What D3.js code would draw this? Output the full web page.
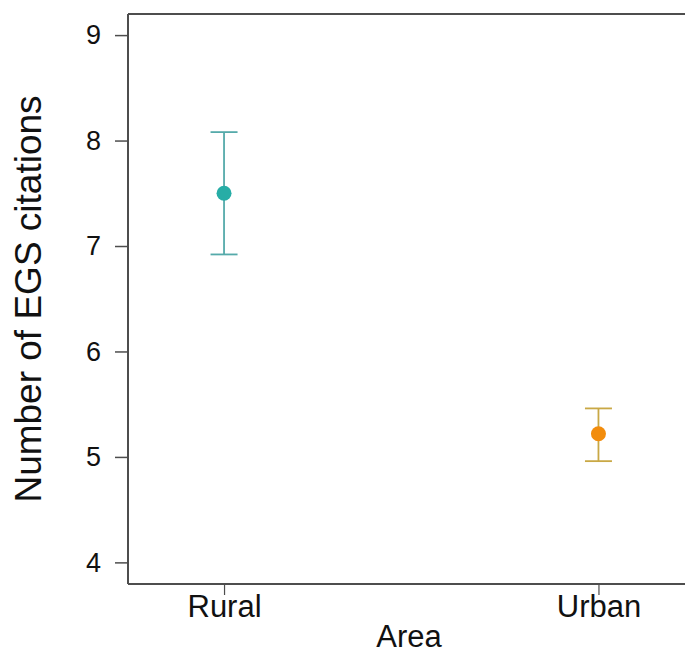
<!DOCTYPE html>
<html><head><meta charset="utf-8">
<script src="https://cdn.jsdelivr.net/npm/d3@7"></script>
<style>
html,body{margin:0;padding:0;background:#fff;}
text{font-family:"Liberation Sans",Arial,sans-serif;fill:#111;}
</style></head>
<body><svg id="chart" width="685" height="653"></svg>
<script>
const categories = ["Rural", "Urban"];
const means = [7.5, 5.22];
const upper = [8.08, 5.46];
const lower = [6.92, 4.96];
const yTicks = [4, 5, 6, 7, 8, 9];
const dotColors = ["#27ada6", "#f28c0c"];
const barColors = ["#55aaaa", "#c9a845"];

(function () {
const svg = d3.select("#chart");
const mLeft = 128, mTop = 14, mBottom = 584, mRight = 694.5;

const y = d3.scaleLinear().domain([3.795, 9.2]).range([mBottom, mTop]);
const x = d3.scalePoint().domain(categories).range([mLeft, mRight]).padding(0.2565);

const axisColor = "#4d4d4d";

// frame top line
svg.append("line").attr("x1", mLeft).attr("x2", 685).attr("y1", mTop).attr("y2", mTop)
  .attr("stroke", axisColor).attr("stroke-width", 2);

// Y axis
const ya = svg.append("g").attr("transform", `translate(${mLeft},0)`)
  .call(d3.axisLeft(y).tickValues(yTicks).tickSize(13).tickPadding(14).tickFormat(d3.format("d")));
ya.select(".domain").attr("stroke", axisColor).attr("stroke-width", 2)
  .attr("d", `M0,${mTop}V${mBottom}`);
ya.selectAll(".tick line").attr("stroke", axisColor).attr("stroke-width", 1.5);
ya.selectAll(".tick text").attr("font-size", 27).attr("fill", "#111")
  .attr("font-family", "Liberation Sans, Arial, sans-serif");

// X axis
const xa = svg.append("g").attr("transform", `translate(0,${mBottom})`)
  .call(d3.axisBottom(x).tickSize(11).tickPadding(0));
xa.select(".domain").attr("stroke", axisColor).attr("stroke-width", 2)
  .attr("d", `M${mLeft},0H685`);
xa.selectAll(".tick line").attr("stroke", axisColor).attr("stroke-width", 1.2);
xa.selectAll(".tick text").attr("font-size", 31).attr("fill", "#111")
  .attr("dy", null).attr("y", 33)
  .attr("font-family", "Liberation Sans, Arial, sans-serif");

// Axis titles
svg.append("text").attr("x", (377 + 441) / 2).attr("y", 647)
  .attr("text-anchor", "middle").attr("font-size", 31).text("Area");
svg.append("text").attr("transform", `translate(41,299) rotate(-90)`)
  .attr("text-anchor", "middle").attr("font-size", 37).text("Number of EGS citations");

// Error bars
const capHalf = 13.5;
const g = svg.append("g");
categories.forEach((c, i) => {
  const cx = x(c);
  const col = barColors[i];
  g.append("line").attr("x1", cx).attr("x2", cx).attr("y1", y(upper[i])).attr("y2", y(lower[i]))
    .attr("stroke", col).attr("stroke-width", 1.8);
  g.append("line").attr("x1", cx - capHalf).attr("x2", cx + capHalf).attr("y1", y(upper[i])).attr("y2", y(upper[i]))
    .attr("stroke", col).attr("stroke-width", 1.8);
  g.append("line").attr("x1", cx - capHalf).attr("x2", cx + capHalf).attr("y1", y(lower[i])).attr("y2", y(lower[i]))
    .attr("stroke", col).attr("stroke-width", 1.8);
  g.append("circle").attr("cx", cx).attr("cy", y(means[i])).attr("r", 7.5)
    .attr("fill", dotColors[i]);
});
})();
</script></body></html>
